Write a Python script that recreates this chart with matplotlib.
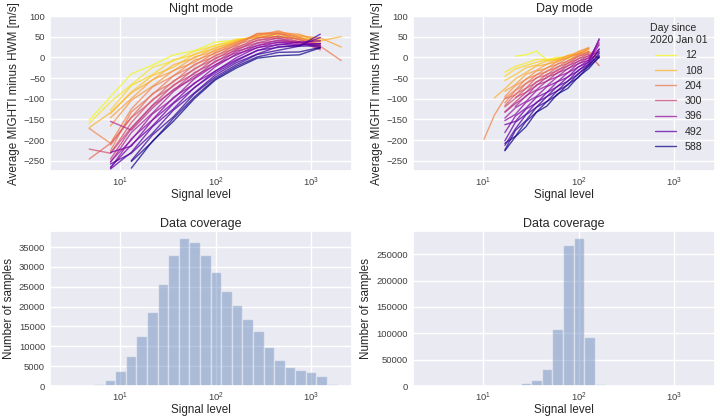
import numpy as np
import matplotlib
matplotlib.use("Agg")
import matplotlib.pyplot as plt
import seaborn as sns

sns.set_theme(style="darkgrid")
plt.rcParams['font.family'] = ['Liberation Sans', 'DejaVu Sans']

nan = np.nan

# ---------------- data ----------------
DAYS = [12, 36, 60, 84, 108, 132, 156, 180, 204, 228, 252, 276, 300,
        324, 348, 372, 396, 420, 444, 468, 492, 516, 540, 564, 588]
LEGEND_DAYS = [12, 108, 204, 300, 396, 492, 588]

NIGHT_X = [4.8, 8.0, 13.2, 21.9, 36.2, 60, 99, 164, 272, 451, 746, 1236, 2046]
NIGHT_Y = [
    [-152, -95, -40, -19, 6, 16, 37, 41, 52, 50, 49, 38, nan],
    [-160, -108, -66, -24, -9, 15, 28, 44, 47, 55, 42, 40, nan],
    [nan, -128, -68, -42, -6, 6, 30, 37, 50, 49, 46, 30, nan],
    [nan, -136, -84, -44, -24, 8, 21, 42, 48, 57, 44, 43, nan],
    [-170, -134, -86, -55, -18, -2, 24, 35, 55, 56, 53, 40, 50],
    [nan, -146, -100, -54, -33, 1, 15, 39, 51, 62, 52, 47, 25],
    [nan, -166, -104, -70, -32, -12, 18, 32, 58, 60, 56, 38, nan],
    [-172, -208, -125, -72, -45, -7, 9, 36, 53, 64, 47, 37, nan],
    [nan, -226, -132, -90, -45, -20, 12, 28, 57, 58, 49, 27, -8],
    [-246, -208, -145, -88, -60, -17, 2, 31, 46, 58, 42, 33, nan],
    [nan, -212, -146, -105, -57, -30, 5, 22, 47, 50, 44, 22, nan],
    [-222, -232, -158, -102, -70, -27, -4, 25, 40, 52, 37, 32, nan],
    [nan, -232, -170, -116, -67, -40, -2, 17, 42, 46, 38, 18, nan],
    [nan, -246, -172, -117, -80, -37, -12, 20, 35, 47, 32, 27, nan],
    [nan, -155, -176, -123, -78, -50, -9, 11, 34, 40, 36, 25, nan],
    [nan, -254, -182, -135, -83, -45, -19, 15, 28, 42, 35, 32, nan],
    [nan, -252, -200, -137, -100, -52, -18, 5, 29, 36, 37, 22, nan],
    [nan, -268, -197, -151, -97, -64, -23, 8, 23, 37, 30, 33, nan],
    [nan, -230, -215, -152, -110, -62, -34, -1, 24, 30, 37, 40, nan],
    [nan, -266, -212, -166, -112, -74, -33, -6, 16, 32, 28, 48, nan],
    [nan, -270, -230, -168, -125, -73, -38, -9, 17, 24, 30, 33, nan],
    [nan, -258, -232, -184, -128, -86, -43, -13, 8, 26, 27, 56, nan],
    [nan, nan, -250, -188, -144, -88, -48, -18, 7, 17, 27, 28, nan],
    [nan, nan, -252, -204, -148, -96, -52, -22, 1, 12, 13, 24, nan],
    [nan, nan, -268, -203, -155, -100, -55, -26, -2, 4, 6, 23, nan],
]

DAY_X = [10.3, 13.2, 17.0, 21.9, 28.2, 36.2, 46.6, 60, 77.2, 99.3, 128, 164]
DAY_Y = [
    [nan, nan, nan, 3, 6, 15, -6, -3, -4, 2, nan, nan],
    [nan, nan, -36, -22, -14, -5, -6, 0, 1, 7, nan, nan],
    [nan, nan, -46, -28, -20, -12, -6, -5, 4, 6, 14, nan],
    [nan, nan, -56, -42, -25, -19, -9, -7, 5, 11, 15, nan],
    [nan, -98, -76, -52, -37, -21, -17, -4, 3, 13, 21, nan],
    [nan, nan, -82, -66, -41, -32, -16, -11, 4, 8, 20, nan],
    [nan, nan, -95, -68, -54, -33, -27, -9, -2, 14, 24, nan],
    [-198, -140, -99, -79, -52, -43, -25, -17, -1, 8, 22, nan],
    [nan, nan, -110, -80, -64, -42, -35, -16, -10, 7, 13, -2],
    [nan, nan, -100, -91, -63, -51, -33, -25, -8, 2, 14, nan],
    [nan, nan, -117, -89, -75, -49, -43, -23, -15, 3, 8, -20],
    [nan, nan, -120, -99, -75, -61, -41, -33, -14, -4, 10, nan],
    [nan, nan, nan, -97, -85, -59, -50, -30, -21, -3, 3, 0],
    [nan, nan, -132, -108, -85, -69, -47, -39, -20, -10, 5, 12],
    [nan, nan, -133, -112, -95, -67, -58, -37, -28, -9, -2, 20],
    [nan, nan, nan, -119, -93, -79, -57, -47, -27, -16, 0, 35],
    [nan, nan, -147, -122, -107, -81, -69, -47, -37, -15, -7, 42],
    [nan, nan, -153, -138, -109, -95, -71, -59, -37, -24, -6, 30],
    [nan, nan, -182, -142, -123, -97, -85, -59, -48, -23, -12, 45],
    [nan, nan, -163, -155, -125, -111, -85, -71, -47, -33, -10, 15],
    [nan, nan, -202, -157, -138, -109, -95, -70, -58, -31, -17, 5],
    [nan, nan, -213, -173, -139, -121, -95, -81, -57, -41, -16, 20],
    [nan, nan, -224, -177, -153, -121, -107, -81, -67, -39, -22, 0],
    [nan, nan, -208, -191, -155, -133, -107, -91, -65, -49, -20, 10],
    [nan, nan, -226, -192, -168, -133, -118, -89, -75, -47, -27, 2],
]

HIST_LOG_START = 0.29
HIST_LOG_WIDTH = 0.1105
NIGHT_COUNTS = [0, 0, 100, 250, 600, 1600, 3700, 7500, 12600, 18700, 25700,
                32900, 37200, 36300, 32900, 28700, 24000, 20400, 17000, 13800,
                9900, 6500, 4800, 4100, 3500, 2400, 600, 100]
DAY_COUNTS = [0, 0, 0, 0, 0, 0, 0, 300, 500, 2000, 5500, 12000, 31600, 109000,
              267000, 280000, 93000, 3200, 0, 0, 0, 0, 0, 0, 0, 0, 0, 0]

XLIM = (1.87, 2650)
YLIM = (-275, 100)

# ---------------- figure ----------------
W, H = 717, 420
fig = plt.figure(figsize=(W / 100, H / 100), dpi=100)

def rect(l, t, r, b):
    return [l / W, 1 - b / H, (r - l) / W, (b - t) / H]

ax_n = fig.add_axes(rect(50, 16, 352, 171))
ax_d = fig.add_axes(rect(413, 16, 715, 171))
ax_hn = fig.add_axes(rect(50, 231, 352, 386))
ax_hd = fig.add_axes(rect(413, 231, 715, 386))

cmap = plt.get_cmap('plasma')
dmin, dmax = min(DAYS), max(DAYS)

def col(d):
    return cmap(1 - (d - dmin) / (dmax - dmin))

TICK_FS = 6.8
LABEL_FS = 8.4
TITLE_FS = 9.0
TXT = '.15'

for ax, X, Y, title in [(ax_n, NIGHT_X, NIGHT_Y, 'Night mode'),
                        (ax_d, DAY_X, DAY_Y, 'Day mode')]:
    for d, ys in zip(DAYS, Y):
        ax.plot(X, ys, color=col(d), lw=1.0, alpha=0.75,
                label=str(d) if d in LEGEND_DAYS else None)
    ax.set_xscale('log')
    ax.set_xlim(*XLIM)
    ax.set_ylim(*YLIM)
    ax.set_yticks([-250, -200, -150, -100, -50, 0, 50, 100])
    ax.set_title(title, fontsize=TITLE_FS, pad=3, color=TXT)
    ax.set_xlabel('Signal level', fontsize=LABEL_FS, labelpad=0, color=TXT)
    ax.set_ylabel('Average MIGHTI minus HWM [m/s]', fontsize=LABEL_FS,
                  labelpad=3, color=TXT)

leg = ax_d.legend(title='Day since\n2020 Jan 01', loc='upper right',
                  frameon=False, fontsize=7.6, title_fontsize=7.6,
                  handlelength=2.0, labelspacing=0.5,
                  borderaxespad=0.3)

edges = 10 ** (HIST_LOG_START + HIST_LOG_WIDTH * np.arange(len(NIGHT_COUNTS) + 1))
centers = np.sqrt(edges[:-1] * edges[1:])

for ax, counts in [(ax_hn, NIGHT_COUNTS), (ax_hd, DAY_COUNTS)]:
    ax.hist(centers, bins=edges, weights=counts, color='C0', alpha=0.4)
    ax.set_xscale('log')
    ax.set_xlim(*XLIM)
    ax.set_title('Data coverage', fontsize=TITLE_FS, pad=3, color=TXT)
    ax.set_xlabel('Signal level', fontsize=LABEL_FS, labelpad=0, color=TXT)
    ax.set_ylabel('Number of samples', fontsize=LABEL_FS, labelpad=3, color=TXT)

ax_hn.set_yticks(range(0, 40000, 5000))
ax_hd.set_yticks(range(0, 300000, 50000))

for ax in [ax_n, ax_d, ax_hn, ax_hd]:
    ax.tick_params(labelsize=TICK_FS, length=0, pad=3.5, labelcolor='.25')
    ax.xaxis.set_minor_locator(matplotlib.ticker.NullLocator())
    ax.grid(True, which='major')

fig.savefig('out.png', dpi=100)
